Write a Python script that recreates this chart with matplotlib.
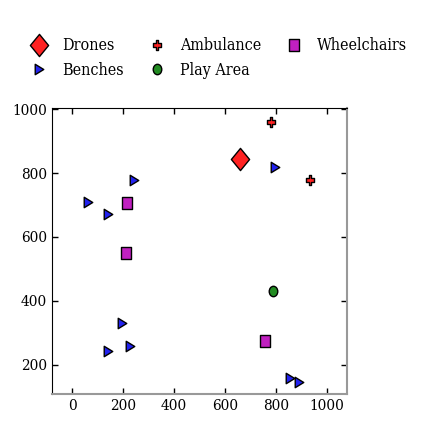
import matplotlib
matplotlib.use("Agg")
import matplotlib.pyplot as plt
import numpy as np
from matplotlib.markers import MarkerStyle
from matplotlib.path import Path

plt.rcParams['font.family'] = ['DejaVu Serif']
plt.rcParams['font.stretch'] = 'condensed'

drones_x = [658]
drones_y = [845]
ambulance_x = [779, 931]
ambulance_y = [961, 777]
wheelchairs_x = [214, 212, 757]
wheelchairs_y = [707, 550, 273]
benches_x = [63, 141, 242, 196, 141, 226, 795, 856, 889]
benches_y = [708, 673, 778, 332, 242, 258, 820, 160, 145]
play_x = [786]
play_y = [431]


def squish(m, sx=0.82):
    # the reference looks a bit stretched vertically, so narrow the markers
    ms = MarkerStyle(m)
    p = ms.get_path().transformed(ms.get_transform())
    v = p.vertices.copy()
    v[:, 0] *= sx
    return Path(v, p.codes)


fig = plt.figure(figsize=(4.36, 4.36), dpi=100)
ax = fig.add_axes([0.119, 0.096, 0.677, 0.656])

kw = dict(linestyle='none', markeredgecolor='black', markeredgewidth=1)
ax.plot(drones_x, drones_y, marker=squish('D'), color='#ff2222', markersize=16, label='Drones', **kw)
ax.plot(benches_x, benches_y, marker=squish('>'), color='#2222ee', markersize=7.5, label='Benches', **kw)
ax.plot(ambulance_x, ambulance_y, marker=squish('P'), color='#ff2222', markersize=7.5, label='Ambulance', **kw)
ax.plot(play_x, play_y, marker=squish('o'), color='#228b22', markersize=7.5, label='Play Area', **kw)
ax.plot(wheelchairs_x, wheelchairs_y, marker=squish('s'), color='#c020c0', markersize=8.5, label='Wheelchairs', **kw)

ax.set_xlim(-80, 1078)
ax.set_ylim(108, 1003)
ax.set_xticks([0, 200, 400, 600, 800, 1000])
ax.set_yticks([200, 400, 600, 800, 1000])
ax.tick_params(direction='in', top=True, right=True, labelsize=11, length=4, width=1)
for s in ['bottom', 'right']:
    ax.spines[s].set_color('#999999')
    ax.spines[s].set_linewidth(1.5)

fig.legend(loc='upper left', bbox_to_anchor=(0.03, 0.947), ncol=3, frameon=False,
           fontsize=11.5, handletextpad=0.7, columnspacing=1.3, labelspacing=0.45,
           handlelength=1.5)

fig.savefig('out.png', dpi=100)
